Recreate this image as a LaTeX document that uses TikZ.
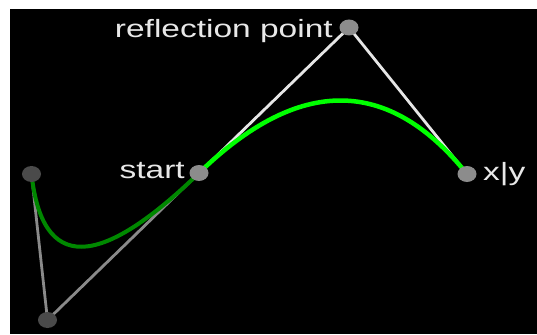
\documentclass[tikz,border=0pt]{standalone}
\usepackage{graphicx}
\usepackage{fontspec}
\setmainfont{Liberation Sans}
\usetikzlibrary{shapes.geometric,calc}
\definecolor{litept}{HTML}{8C8C8C}
\definecolor{darkpt}{HTML}{4A4A4A}
\definecolor{tanw}{HTML}{E6E6E6}
\definecolor{tang}{HTML}{8A8A8A}
\definecolor{brightg}{HTML}{00FF00}
\definecolor{darkg}{HTML}{008800}
\definecolor{labelc}{HTML}{E8E8E8}
\tikzset{
  ptlite/.style={ellipse, fill=litept, minimum width=19pt, minimum height=16pt, inner sep=0pt},
  ptdark/.style={ellipse, fill=darkpt, minimum width=19pt, minimum height=16pt, inner sep=0pt},
  tanwhite/.style={draw=tanw, line width=2.8pt},
  tangray/.style={draw=tang, line width=2.8pt},
  curvebright/.style={draw=brightg, line width=4.5pt},
  curvedark/.style={draw=darkg, line width=4pt},
  lbl/.style={text=labelc, font=\fontsize{25pt}{30pt}\selectfont, inner sep=0pt}
}
\begin{document}
\begin{tikzpicture}[x=1pt,y=-1pt]
\useasboundingbox (0,0) rectangle (537,334);
\fill[white] (0,0) rectangle (537,334);
\fill[black] (10,9) rectangle (537,334);
% point positions
\coordinate (S) at (199,173);
\coordinate (R) at (349,27.5);
\coordinate (E) at (467,174);
\coordinate (L) at (31.5,174);
\coordinate (B) at (47.5,320);
% tangent lines
\draw[tangray] (L) -- (B) -- (S);
\draw[tanwhite] (S) -- (R) -- (E);
% curves (quadratic beziers as cubics)
\draw[curvedark] (L) .. controls ($(L)!2/3!(B)$) and ($(S)!2/3!(B)$) .. (S);
\draw[curvebright] (S) .. controls ($(S)!2/3!(R)$) and ($(E)!2/3!(R)$) .. (E);
% points
\node[ptdark] (nL) at (L) {};
\node[ptdark] (nB) at (B) {};
\node[ptlite] (nS) at (S) {};
\node[ptlite] (nR) at (R) {};
\node[ptlite] (nE) at (E) {};
% labels
\node[lbl, anchor=base east] (tR) at (333,38) {\scalebox{1.34}[1]{reflection point}};
\node[lbl, anchor=base east] (tS) at (185,178) {\scalebox{1.34}[1]{start}};
\node[lbl, anchor=base west] (tE) at (483,180) {\scalebox{1.34}[1]{x|y}};
\end{tikzpicture}
\end{document}
